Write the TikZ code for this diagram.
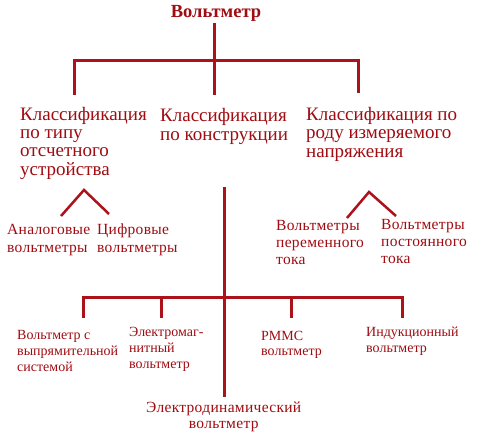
\documentclass[tikz,border=0pt]{standalone}
\usepackage{fontspec}
\setmainfont{Liberation Serif}
\newfontfamily\smallserif[LetterSpace=2]{Liberation Serif}
\definecolor{vred}{RGB}{172,18,26}
\definecolor{tred}{RGB}{160,12,18}
\begin{document}
\begin{tikzpicture}[x=1pt,y=-1pt,
  tree/.style={draw=vred,line width=3pt},
  titlebox/.style={inner sep=0pt,text=tred,font=\fontsize{18.5}{18.5}\selectfont\bfseries},
  headbox/.style={inner sep=0pt,anchor=base west,align=left,text=tred,font=\fontsize{19}{18.3}\selectfont},
  leafbox/.style={inner sep=0pt,anchor=base west,align=left,text=tred,font=\smallserif\fontsize{15.5}{17}\selectfont},
  lowbox/.style={leafbox,font=\fontsize{14}{16}\selectfont},
  caret/.style={draw=vred,line width=2.5pt}]
\useasboundingbox (0,0) rectangle (500,447);
\fill[white] (0,0) rectangle (500,447);
% title and headings (anchor = baseline of last line)
\node[titlebox,anchor=base] (t) at (216,17) {Вольтметр};
\node[headbox] (h1) at (20,175) {Классификация\\по типу\\отсчетного\\устройства};
\node[headbox] (h2) at (160,140) {Классификация\\по конструкции};
\node[headbox] (h3) at (306,157) {Классификация по\\роду измеряемого\\напряжения};
% top tree
\coordinate (j0) at (214,60);
\coordinate (d1) at (74,95);
\coordinate (d2) at (214,95);
\coordinate (d3) at (358,93);
\draw[tree] (214,23) -- (j0);
\draw[tree] (d1) |- (j0) -| (d3);
\draw[tree] (j0) -- (d2);
% leaves of heading 1
\node[leafbox,font=\smallserif\fontsize{15.5}{18}\selectfont] (a1) at (7,252) {Аналоговые\\вольтметры};
\node[leafbox,font=\smallserif\fontsize{15.5}{18}\selectfont] (a2) at (97,252) {Цифровые\\вольтметры};
\coordinate (c1) at (84,190);
\coordinate (c1l) at (61,216);
\coordinate (c1r) at (109,214);
\draw[caret] (c1l) -- (c1) -- (c1r);
% leaves of heading 3
\node[leafbox,font=\smallserif\fontsize{15.5}{16.7}\selectfont] (b1) at (276,264) {Вольтметры\\переменного\\тока};
\node[leafbox,font=\smallserif\fontsize{15.5}{16.7}\selectfont] (b2) at (381,263) {Вольтметры\\постоянного\\тока};
\coordinate (c3) at (369,192);
\coordinate (c3l) at (347,218);
\coordinate (c3r) at (396,216);
\draw[caret] (c3l) -- (c3) -- (c3r);
% construction tree
\coordinate (m0) at (224,187);
\coordinate (m1) at (224,297);
\coordinate (m2) at (224,397);
\coordinate (e1) at (83,318);
\coordinate (e2) at (161,318);
\coordinate (e3) at (291,318);
\coordinate (e4) at (402,318);
\draw[tree] (m0) -- (m2);
\draw[tree] (e1) |- (m1) -| (e4);
\draw[tree] (e2) -- (161,297);
\draw[tree] (e3) -- (291,297);
\node[lowbox] (k1) at (17,371) {Вольтметр с\\выпрямительной\\системой};
\node[lowbox] (k2) at (129,368) {Электромаг-\\нитный\\вольтметр};
\node[lowbox,font=\fontsize{14}{15}\selectfont] (k3) at (261,355) {PMMC\\вольтметр};
\node[lowbox] (k4) at (366,352) {Индукционный\\вольтметр};
\node[leafbox,align=center,font=\smallserif\fontsize{15.5}{15.5}\selectfont] (k5) at (146,428) {Электродинамический\\вольтметр};
\end{tikzpicture}
\end{document}
